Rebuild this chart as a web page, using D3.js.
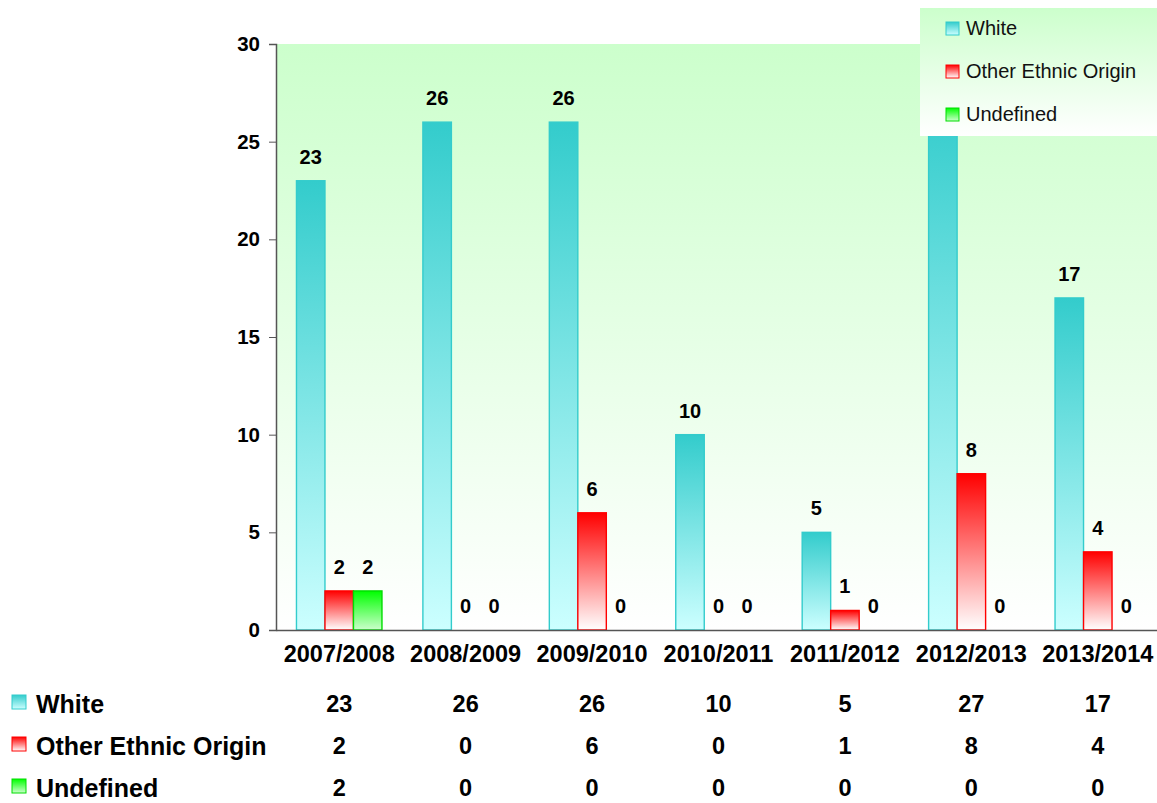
<!DOCTYPE html>
<html>
<head>
<meta charset="utf-8">
<script src="https://cdn.jsdelivr.net/npm/d3@7"></script>
<style>
  body { margin: 0; background: #fff; }
  text { font-family: "Liberation Sans", Arial, sans-serif; }
</style>
</head>
<body>
<div id="chart"></div>
<script>
// data
var years = ["2007/2008", "2008/2009", "2009/2010", "2010/2011", "2011/2012", "2012/2013", "2013/2014"];
var seriesNames = ["White", "Other Ethnic Origin", "Undefined"];
var white = [23, 26, 26, 10, 5, 27, 17];
var otherEthnic = [2, 0, 6, 0, 1, 8, 4];
var undefinedVals = [2, 0, 0, 0, 0, 0, 0];
var yTicks = [0, 5, 10, 15, 20, 25, 30];

var seriesValues = [white, otherEthnic, undefinedVals];
var colors = [
  { top: "#33cccc", bottom: "#ccffff", stroke: "#33cccc" },
  { top: "#ff0000", bottom: "#ffffff", stroke: "#ff0000" },
  { top: "#00ff00", bottom: "#ccffcc", stroke: "#00dd00" }
];

var W = 1157, H = 803;
var plot = { left: 276, top: 44, right: 1161, bottom: 630 };

var svg = d3.select("#chart").append("svg")
  .attr("width", W).attr("height", H);

var defs = svg.append("defs");
function vgrad(id, c1, c2) {
  var g = defs.append("linearGradient").attr("id", id)
    .attr("x1", 0).attr("y1", 0).attr("x2", 0).attr("y2", 1);
  g.append("stop").attr("offset", "0%").attr("stop-color", c1);
  g.append("stop").attr("offset", "100%").attr("stop-color", c2);
}
vgrad("bgGrad", "#ccffcc", "#ffffff");
colors.forEach(function(c, i) { vgrad("barGrad" + i, c.top, c.bottom); });

var x = d3.scaleBand().domain(years).range([plot.left, plot.right]);
var y = d3.scaleLinear().domain([0, 30]).range([plot.bottom, plot.top]);
var barW = 28.5;

function cx(i) { return x(years[i]) + x.bandwidth() / 2; }

// plot background
svg.append("rect")
  .attr("x", plot.left).attr("y", plot.top)
  .attr("width", plot.right - plot.left).attr("height", plot.bottom - plot.top)
  .attr("fill", "url(#bgGrad)");

// bars
seriesValues.forEach(function(vals, s) {
  var pts = vals.map(function(v, i) { return { v: v, i: i }; });
  var g = svg.append("g");
  g.selectAll("rect").data(pts.filter(function(d) { return d.v > 0; }))
    .enter().append("rect")
    .attr("x", function(d) { return cx(d.i) + (s - 1.5) * barW; })
    .attr("y", function(d) { return y(d.v); })
    .attr("width", barW)
    .attr("height", function(d) { return y(0) - y(d.v); })
    .attr("fill", "url(#barGrad" + s + ")")
    .attr("stroke", colors[s].stroke)
    .attr("stroke-width", 1.4);

  g.selectAll("text").data(pts).enter().append("text")
    .attr("x", function(d) { return cx(d.i) + (s - 1) * barW; })
    .attr("y", function(d) { return y(d.v) - 17; })
    .attr("text-anchor", "middle")
    .attr("font-size", 20).attr("font-weight", "bold")
    .text(function(d) { return d.v; });
});

// axes
var yAxis = svg.append("g")
  .attr("transform", "translate(" + plot.left + ",0)")
  .call(d3.axisLeft(y).tickValues(yTicks).tickSize(7).tickPadding(9));
yAxis.select(".domain").attr("stroke", "#555").attr("stroke-width", 1.5);
yAxis.selectAll(".tick line").attr("stroke", "#555");
yAxis.selectAll("text").attr("font-size", 20.5).attr("font-weight", "bold")
  .attr("font-family", "Liberation Sans, Arial, sans-serif").attr("fill", "#000");

var xAxis = svg.append("g")
  .attr("transform", "translate(0," + plot.bottom + ")")
  .call(d3.axisBottom(x).tickSize(0).tickPadding(15));
xAxis.select(".domain").attr("stroke", "#555").attr("stroke-width", 1.5);
xAxis.selectAll("text").attr("font-size", 23.5).attr("font-weight", "bold")
  .attr("font-family", "Liberation Sans, Arial, sans-serif").attr("fill", "#000");

// data table under the chart
var rowY = [704, 746, 788];
seriesNames.forEach(function(name, s) {
  var row = svg.append("g");
  row.append("rect")
    .attr("x", 12).attr("y", rowY[s] - 9).attr("width", 14).attr("height", 14)
    .attr("fill", "url(#barGrad" + s + ")").attr("stroke", colors[s].stroke);
  row.append("text")
    .attr("x", 36).attr("y", rowY[s] + 9)
    .attr("font-size", 25).attr("font-weight", "bold")
    .text(name);
  row.selectAll(".val").data(seriesValues[s]).enter().append("text")
    .attr("x", function(d, i) { return cx(i); })
    .attr("y", rowY[s] + 8)
    .attr("text-anchor", "middle")
    .attr("font-size", 23.5).attr("font-weight", "bold")
    .text(function(d) { return d; });
});

// legend box (top right)
var lg = svg.append("g");
lg.append("rect")
  .attr("x", 920).attr("y", 8).attr("width", 240).attr("height", 128)
  .attr("fill", "url(#bgGrad)");
seriesNames.forEach(function(name, s) {
  var cy = 28 + s * 43;
  lg.append("rect")
    .attr("x", 946).attr("y", cy - 6).attr("width", 13).attr("height", 13)
    .attr("fill", "url(#barGrad" + s + ")").attr("stroke", colors[s].stroke);
  lg.append("text")
    .attr("x", 966).attr("y", cy + 7)
    .attr("font-size", 20).attr("fill", "#111")
    .text(name);
});
</script>
</body>
</html>
